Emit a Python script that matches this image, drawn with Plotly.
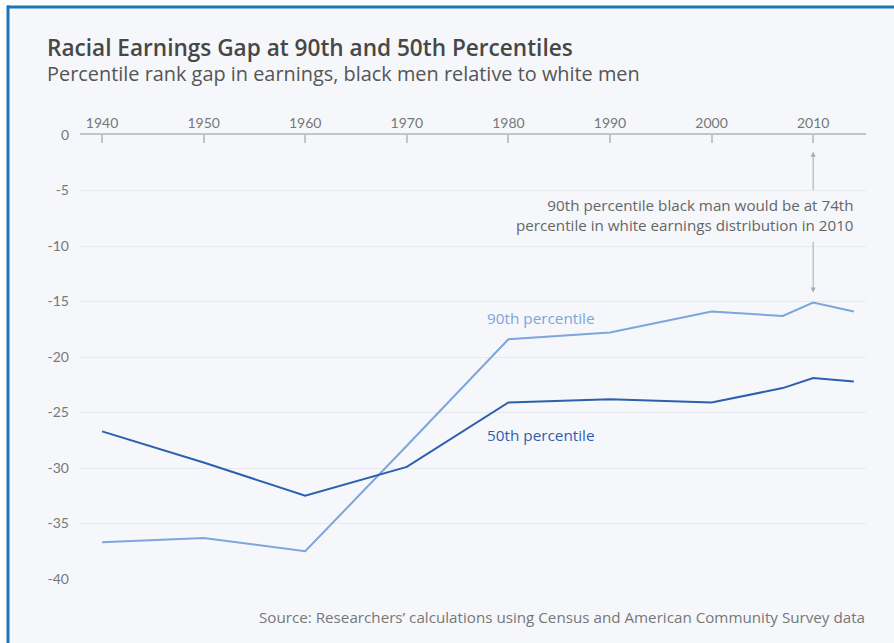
import plotly.graph_objects as go

# Percentile rank gap in earnings, black men relative to white men
years = [1940, 1950, 1960, 1970, 1980, 1990, 2000, 2007, 2010, 2014]
gap_p90 = [-36.7, -36.3, -37.5, -28.0, -18.4, -17.8, -15.9, -16.3, -15.1, -15.9]
gap_p50 = [-26.7, -29.5, -32.5, -29.9, -24.1, -23.8, -24.1, -22.8, -21.9, -22.2]

x_ticks = [1940, 1950, 1960, 1970, 1980, 1990, 2000, 2010]
y_ticks = [0, -5, -10, -15, -20, -25, -30, -35, -40]
y_tick_text = ["0", "-5", "-10", "-15", "-20", "-25", "-30", "-35", "-40"]

LIGHT = "#7ca6dc"
DARK = "#2c5fae"
BG = "#f5f7fb"
FONT = "Open Sans"
TICK_FONT = "Lato"

W, H = 894, 643
M_L, M_R, M_T, M_B = 80, 28, 135, 64
PW, PH = W - M_L - M_R, H - M_T - M_B


def px_x(px):
    return (px - M_L) / PW


def px_y(py):
    return 1 - (py - M_T) / PH


fig = go.Figure()
fig.add_trace(go.Scatter(x=years, y=gap_p90, mode="lines",
                         line=dict(color=LIGHT, width=2), hoverinfo="skip"))
fig.add_trace(go.Scatter(x=years, y=gap_p50, mode="lines",
                         line=dict(color=DARK, width=2), hoverinfo="skip"))

shapes = [
    # white page strip + panel background
    dict(type="rect", xref="paper", yref="paper", x0=px_x(0), x1=px_x(W),
         y0=px_y(H), y1=px_y(0), fillcolor="white", line_width=0, layer="below"),
    dict(type="rect", xref="paper", yref="paper", x0=px_x(8), x1=px_x(W),
         y0=px_y(H), y1=px_y(7), fillcolor=BG, line_width=0, layer="below"),
    # blue frame, top and left edges
    dict(type="line", xref="paper", yref="paper", x0=px_x(7), x1=px_x(W),
         y0=px_y(7), y1=px_y(7), line=dict(color="#1b75bb", width=3)),
    dict(type="line", xref="paper", yref="paper", x0=px_x(8), x1=px_x(8),
         y0=px_y(5.5), y1=px_y(H), line=dict(color="#1b75bb", width=3)),
]

annotations = [
    dict(text="Racial Earnings Gap at 90th and 50th Percentiles", xref="paper", yref="paper",
         x=px_x(45), y=px_y(47), xanchor="left", yanchor="middle", showarrow=False,
         font=dict(family=FONT, size=22.6, color="#474747", weight=600)),
    dict(text="Percentile rank gap in earnings, black men relative to white men", xref="paper",
         yref="paper", x=px_x(45), y=px_y(73), xanchor="left", yanchor="middle",
         showarrow=False, font=dict(family=FONT, size=19.9, color="#555555")),
    dict(text="Source: Researchers\u2019 calculations using Census and American Community Survey data",
         xref="paper", yref="paper", x=px_x(867), y=px_y(617), xanchor="right",
         yanchor="middle", showarrow=False, font=dict(family=FONT, size=15.2, color="#777777")),
    dict(text="90th percentile", x=1977.7, y=-16.5, xanchor="left", yanchor="middle",
         showarrow=False, font=dict(family=FONT, size=15.3, color=LIGHT)),
    dict(text="50th percentile", x=1977.7, y=-27.0, xanchor="left", yanchor="middle",
         showarrow=False, font=dict(family=FONT, size=15.3, color=DARK)),
    dict(text="90th percentile black man would be at 74th<br>percentile in white earnings distribution in 2010",
         xref="paper", yref="paper", x=px_x(856), y=px_y(215), xanchor="right",
         yanchor="middle", align="right", showarrow=False,
         font=dict(family=FONT, size=15.2, color="#666666")),
    # broken double-headed arrow pointing at the 2010 value
    dict(text="", x=2010, y=-1.5, ax=2010, ay=-5.1, axref="x", ayref="y",
         showarrow=True, arrowhead=2, arrowsize=1, arrowwidth=1, arrowcolor="#aaaaaa",
         standoff=0, startstandoff=0),
    dict(text="", x=2010, y=-14.2, ax=2010, ay=-9.5, axref="x", ayref="y",
         showarrow=True, arrowhead=2, arrowsize=1, arrowwidth=1, arrowcolor="#aaaaaa",
         standoff=0, startstandoff=0),
]

fig.update_layout(
    width=W, height=H,
    margin=dict(l=M_L, r=M_R, t=M_T, b=M_B, pad=0),
    paper_bgcolor="white",
    plot_bgcolor="rgba(0,0,0,0)",
    showlegend=False,
    font=dict(family=FONT, color="#777777"),
    shapes=shapes,
    annotations=annotations,
    xaxis=dict(
        side="top", range=[1937.83, 2015.2], tickvals=x_ticks,
        showgrid=False, zeroline=False,
        showline=True, linecolor="#c4c4c4", linewidth=1.5,
        ticks="inside", ticklen=8, tickcolor="#c4c4c4", tickwidth=1.5,
        tickfont=dict(family=TICK_FONT, size=14, color="#777777"),
        fixedrange=True,
    ),
    yaxis=dict(
        range=[-40, 0], tickvals=y_ticks, ticktext=y_tick_text,
        showgrid=True, gridcolor="#e6eaf0", gridwidth=1, zeroline=False,
        showline=False, ticks="", ticklabelstandoff=10,
        tickfont=dict(family=TICK_FONT, size=14, color="#777777"),
        fixedrange=True,
    ),
)

fig.write_html("out.html")
